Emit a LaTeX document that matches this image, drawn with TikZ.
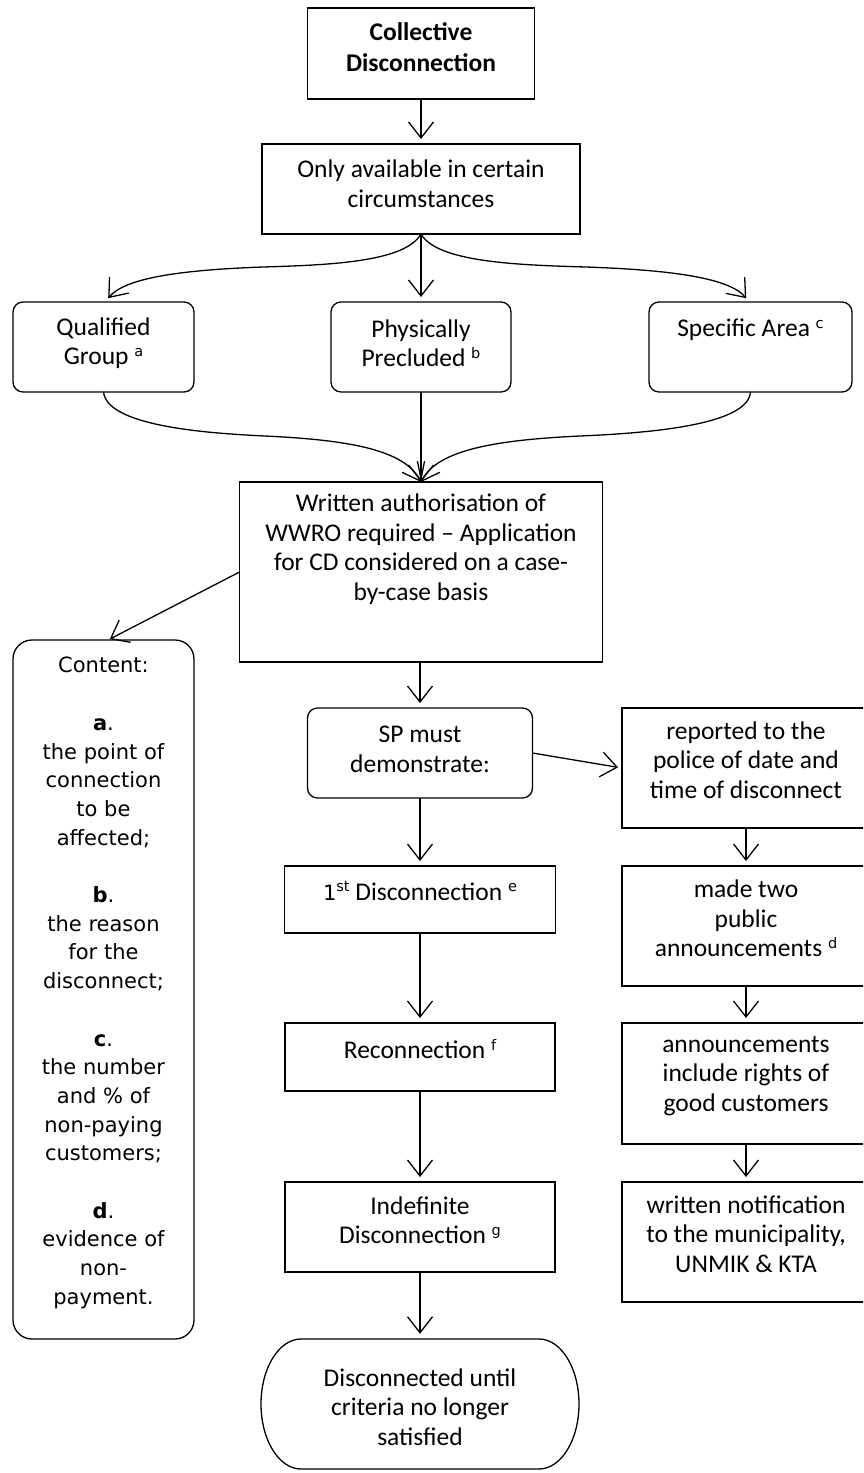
\documentclass[tikz,border=0pt]{standalone}
\usepackage{fontspec}
\setmainfont{Carlito}
\newfontfamily\dvfont{DejaVu Sans}
\usetikzlibrary{arrows.meta}
% small raised footnote letters
\newcommand\fnmark[1]{\raisebox{8.5pt}{\dvfont\fontsize{14.5}{14.5}\selectfont #1}}
\begin{document}
\begin{tikzpicture}[x=1pt,y=-1pt,
  box/.style={draw, line width=1.3pt, inner sep=0pt, outer sep=0pt},
  rbox/.style={box, rounded corners=10pt},
  dims/.style 2 args={minimum width=#1, minimum height=#2},
  txt/.style={inner sep=0pt, align=center, font=\fontsize{25.5}{29.5}\selectfont},
  ctxt/.style={inner sep=0pt, align=center, font=\dvfont\fontsize{21}{28.7}\selectfont},
  arr/.style={line width=1.3pt, shorten >=5pt, -{Straight Barb[length=16pt,width=25pt]}},
  mergearrow/.style={arr, shorten >=0pt}]
\useasboundingbox (0,0) rectangle (863,1473);
\clip (0,0) rectangle (863,1473);

% ---- top of the chart
\node[box, dims={227pt}{91pt}] (title) at (421,53.5) {};
\node[txt, font=\bfseries\fontsize{25.5}{31}\selectfont] (title-t) at (421,47.5) {Collective\\Disconnection};

\node[box, dims={318pt}{90pt}] (only) at (421,189) {};
\node[txt] (only-t) at (421,183.5) {Only available in certain\\circumstances};

% ---- the three circumstances
\node[rbox, dims={181pt}{90pt}] (qual) at (103.5,347) {};
\node[txt] (qual-t) at (103.5,343) {Qualified\\Group \fnmark{a}};
\node[rbox, dims={180pt}{90pt}] (phys) at (421,347) {};
\node[txt] (phys-t) at (421,343) {Physically\\Precluded \fnmark{b}};
\node[rbox, dims={203pt}{90pt}] (spec) at (750.5,347) {};
\node[txt] (spec-t) at (750.5,330) {Specific Area \fnmark{c}};

% ---- authorisation
\node[box, dims={363pt}{180pt}] (written) at (421,572) {};
\node[txt] (written-t) at (421,549) {Written authorisation of\\WWRO required -- Application\\for CD considered on a case-\\by-case basis};

% ---- content of the application
\node[box, rounded corners=19pt, dims={181pt}{699pt}] (content) at (103.5,989.5) {};
\node[ctxt] (content-t) at (103.5,983) {Content:\\\mbox{}\\\textbf{a}.\\the point of\\connection\\to be\\affected;\\\mbox{}\\\textbf{b}.\\the reason\\for the\\disconnect;\\\mbox{}\\\textbf{c}.\\the number\\and \% of\\non-paying\\customers;\\\mbox{}\\\textbf{d}.\\evidence of\\non-\\payment.};

% ---- middle column
\node[rbox, dims={225pt}{90pt}] (sp) at (420,753) {};
\node[txt] (sp-t) at (420,749.5) {SP must\\demonstrate:};
\node[box, dims={271pt}{67pt}] (first) at (420,899.5) {};
\node[txt] (first-t) at (420,891) {{\dvfont\fontsize{21}{21}\selectfont 1}\fnmark{st} Disconnection \fnmark{e}};
\node[box, dims={270pt}{68pt}] (recon) at (420,1057) {};
\node[txt] (recon-t) at (420,1049) {Reconnection \fnmark{f}};
\node[box, dims={270pt}{90pt}] (indef) at (420,1227) {};
\node[txt] (indef-t) at (420,1220) {Indefinite\\Disconnection \fnmark{g}};
\node[inner sep=0pt, dims={317pt}{130pt}] (term) at (420,1404) {};
\draw[line width=1.3pt] (301,1339) -- (539,1339)
  .. controls (561,1339) and (579,1368) .. (579,1404)
  .. controls (579,1440) and (561,1469) .. (539,1469) -- (301,1469)
  .. controls (279,1469) and (261,1440) .. (261,1404)
  .. controls (261,1368) and (279,1339) .. (301,1339) -- cycle;
\node[txt] (term-t) at (420,1407) {Disconnected until\\criteria no longer\\satisfied};

% ---- right column
\node[box, dims={248pt}{120pt}] (rep) at (746,768) {};
\node[txt] (rep-t) at (746,760) {reported to the\\police of date and\\time of disconnect};
\node[box, dims={248pt}{120pt}] (made) at (746,926) {};
\node[txt] (made-t) at (746,918.5) {made two\\public\\announcements \fnmark{d}};
\node[box, dims={248pt}{121pt}] (ann) at (746,1083.5) {};
\node[txt] (ann-t) at (746,1076) {announcements\\include rights of\\good customers};
\node[box, dims={248pt}{120pt}] (notif) at (746,1242) {};
\node[txt] (notif-t) at (746,1234) {written notification\\to the municipality,\\UNMIK \& KTA};

% ---- connectors
\draw[arr] (title.south) -- (only.north);
\draw[arr] (only.south) .. controls (405,262) and (330,265) .. (263,267)
  .. controls (180,270) and (125,278) .. ([xshift=1.5pt]qual.north);
\draw[arr] (only.south) -- (phys.north);
\draw[arr] (only.south) .. controls (437,262) and (516,265) .. (586,267)
  .. controls (672,270) and (729,278) .. ([xshift=-1pt]spec.north);

\draw[mergearrow] (qual.south) .. controls (107,425) and (200,433) .. (265,436)
  .. controls (350,440) and (405,450) .. (written.north);
\draw[mergearrow] (phys.south) -- (written.north);
\draw[mergearrow] (spec.south) .. controls (748,425) and (650,433) .. (580,436)
  .. controls (495,440) and (437,450) .. (written.north);

\draw[arr, shorten >=2pt] (written.west) -- ([xshift=4.5pt]content.north);
\draw[arr] (sp.north |- written.south) -- (sp.north);
\draw[arr, shorten >=4pt] (sp.east) -- (rep.west);
\draw[arr] (sp.south) -- (first.north);
\draw[arr] (first.south) -- (recon.north);
\draw[arr] (recon.south) -- (indef.north);
\draw[arr] (indef.south) -- (term.north);
\draw[arr] (rep.south) -- (made.north);
\draw[arr] (made.south) -- (ann.north);
\draw[arr] (ann.south) -- (notif.north);
\end{tikzpicture}
\end{document}
